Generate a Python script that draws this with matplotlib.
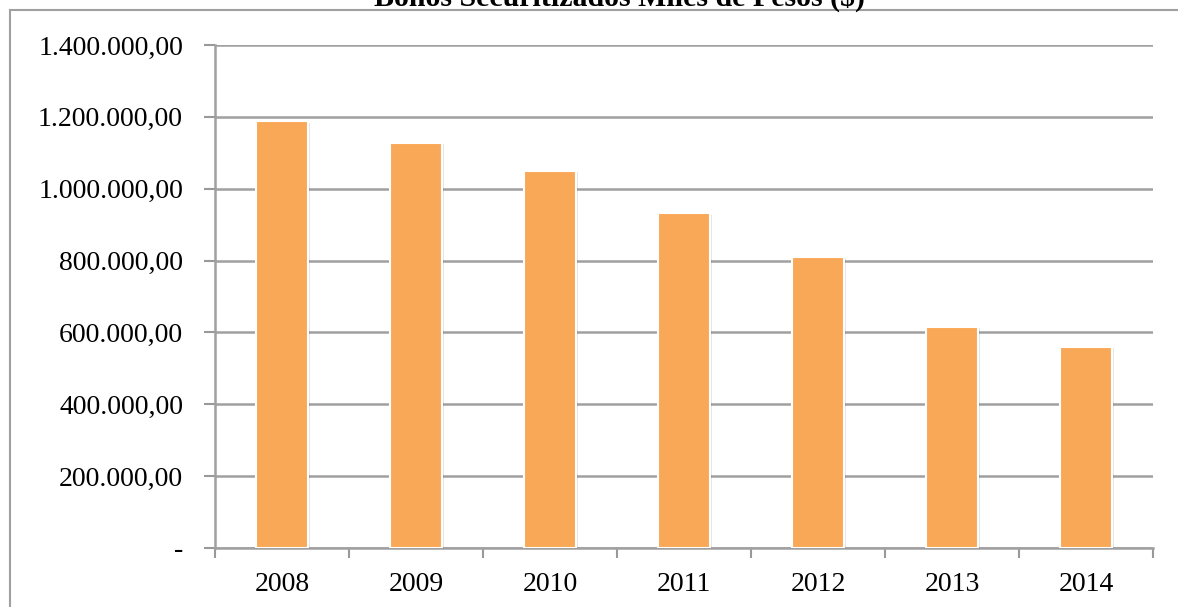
import numpy as np
import matplotlib.pyplot as plt
import matplotlib.patheffects as pe
from matplotlib.patches import Rectangle
from matplotlib.ticker import FuncFormatter, FixedLocator

years = ['2008', '2009', '2010', '2011', '2012', '2013', '2014']
bonos = [1188000, 1127000, 1049000, 932000, 810000, 615000, 560000]

plt.rcParams['font.family'] = ['Liberation Serif', 'DejaVu Serif']

fig = plt.figure(figsize=(11.78, 6.07), dpi=100)
ax = fig.add_axes([215 / 1178, 59 / 607, 938 / 1178, 503 / 607])

x = np.arange(len(years))
bars = ax.bar(x, bonos, width=0.39, color='#F9A857', edgecolor='white', linewidth=1.5, zorder=3)
for b in bars:
    b.set_path_effects([pe.SimplePatchShadow(offset=(1.5, -1), alpha=0.1, shadow_rgbFace='black'), pe.Normal()])

ax.set_xlim(-0.5, len(years) - 0.5)
ax.set_ylim(0, 1400000)
ax.set_yticks(np.arange(0, 1400001, 200000))


def fmt(v, pos):
    if v == 0:
        return '-'
    s = f'{int(v):,}'.replace(',', '.')
    return s + ',00'


ax.yaxis.set_major_formatter(FuncFormatter(fmt))
ax.set_xticks(x)
ax.set_xticklabels(years)
ax.tick_params(axis='x', length=0, labelsize=20, pad=17)
ax.xaxis.set_minor_locator(FixedLocator(np.arange(-0.5, len(years), 1)))
ax.tick_params(axis='x', which='minor', length=7, width=1.5, color='#999999')
ax.tick_params(axis='y', length=8, width=1.5, color='#999999', labelsize=20, pad=15)

ax.grid(axis='y', color='#a0a0a0', linewidth=1.8, zorder=0)
ax.set_axisbelow(True)
for s in ['top', 'right']:
    ax.spines[s].set_visible(False)
for s in ['left', 'bottom']:
    ax.spines[s].set_color('#a0a0a0')
    ax.spines[s].set_linewidth(1.8)

fig.patches.append(Rectangle((10 / 1178, -0.2), 2, 1 - 10 / 607 + 0.2, transform=fig.transFigure,
                             fill=False, edgecolor='#a0a0a0', linewidth=1.5))
fig.text(620 / 1178, 1 - 6 / 607, 'Bonos Securitizados Miles de Pesos ($)', ha='center', va='baseline',
         fontsize=21.5, fontweight='bold', family=['Liberation Serif'])

fig.savefig('out.png', dpi=100)
